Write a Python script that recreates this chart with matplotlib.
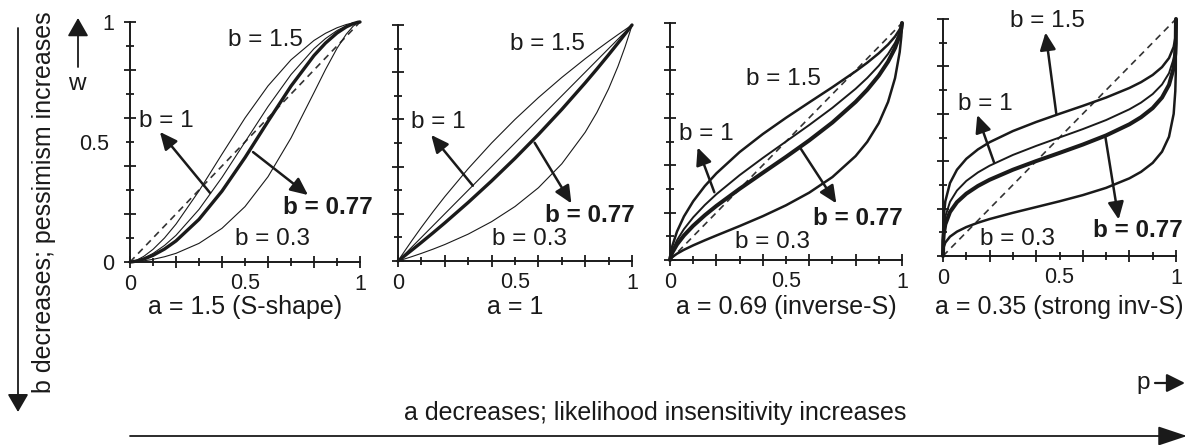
import matplotlib
matplotlib.use("Agg")
import matplotlib.pyplot as plt
from matplotlib.patches import FancyArrowPatch

plt.rcParams['font.family'] = ['Liberation Sans', 'DejaVu Sans']

p = [0, 0.001, 0.003, 0.01, 0.03, 0.06, 0.1, 0.15, 0.2, 0.3, 0.4, 0.5,
     0.6, 0.7, 0.8, 0.85, 0.9, 0.94, 0.97, 0.99, 0.997, 0.999, 1]

a_values = [1.5, 1, 0.69, 0.35]
a_labels = ["a = 1.5 (S-shape)", "a = 1", "a = 0.69 (inverse-S)", "a = 0.35 (strong inv-S)"]
b_values = [0.3, 0.77, 1, 1.5]

# a = 1.5
w_a150_b030 = [0, 0, 0, 0.0003, 0.0016, 0.0048, 0.011, 0.0218, 0.0361, 0.0776, 0.1404, 0.2308,
               0.3553, 0.5167, 0.7059, 0.8019, 0.8901, 0.9490, 0.9822, 0.9966, 0.9995, 0.9999, 1]
w_a150_b077 = [0, 0, 0.0001, 0.0008, 0.0042, 0.0123, 0.0277, 0.0540, 0.0878, 0.1777, 0.2954, 0.4350,
               0.5859, 0.7329, 0.8603, 0.9122, 0.9541, 0.9795, 0.9930, 0.9987, 0.9998, 1.0, 1]
w_a150_b100 = [0, 0, 0.0002, 0.0010, 0.0054, 0.0159, 0.0357, 0.0690, 0.1111, 0.2191, 0.3525, 0.5,
               0.6475, 0.7809, 0.8889, 0.9310, 0.9643, 0.9841, 0.9946, 0.9990, 0.9998, 1.0, 1]
w_a150_b150 = [0, 0, 0.0002, 0.0015, 0.0081, 0.0236, 0.0526, 0.1001, 0.1579, 0.2962, 0.4495, 0.6,
               0.7337, 0.8424, 0.9231, 0.9529, 0.9759, 0.9894, 0.9964, 0.9993, 0.9999, 1.0, 1]
# a = 1
w_a100_b030 = [0, 0.0003, 0.0009, 0.0030, 0.0092, 0.0188, 0.0323, 0.0503, 0.0698, 0.1139, 0.1667, 0.2308,
               0.3103, 0.4118, 0.5455, 0.6296, 0.7297, 0.8246, 0.9065, 0.9674, 0.9901, 0.9967, 1]
w_a100_b077 = [0, 0.0008, 0.0023, 0.0077, 0.0233, 0.0469, 0.0788, 0.1196, 0.1614, 0.2481, 0.3392, 0.4350,
               0.5360, 0.6424, 0.7549, 0.8135, 0.8739, 0.9234, 0.9614, 0.9871, 0.9961, 0.9987, 1]
w_a100_b100 = [0, 0.001, 0.003, 0.01, 0.03, 0.06, 0.1, 0.15, 0.2, 0.3, 0.4, 0.5,
               0.6, 0.7, 0.8, 0.85, 0.9, 0.94, 0.97, 0.99, 0.997, 0.999, 1]
w_a100_b150 = [0, 0.0015, 0.0045, 0.0149, 0.0443, 0.0874, 0.1429, 0.2093, 0.2727, 0.3913, 0.5, 0.6,
               0.6923, 0.7778, 0.8571, 0.8947, 0.9310, 0.9592, 0.9798, 0.9933, 0.9980, 0.9993, 1]
# a = 0.69
w_a069_b030 = [0, 0.0026, 0.0054, 0.0124, 0.0265, 0.0430, 0.0618, 0.0831, 0.1034, 0.1432, 0.1849, 0.2308,
               0.2841, 0.3499, 0.4385, 0.4983, 0.5774, 0.6670, 0.7675, 0.8772, 0.9428, 0.9724, 1]
w_a069_b077 = [0, 0.0065, 0.0138, 0.0313, 0.0654, 0.1034, 0.1446, 0.1887, 0.2283, 0.3003, 0.3679, 0.4350,
               0.5046, 0.5801, 0.6671, 0.7182, 0.7781, 0.8371, 0.8945, 0.9483, 0.9769, 0.9891, 1]
w_a069_b100 = [0, 0.0085, 0.0179, 0.0403, 0.0833, 0.1303, 0.1801, 0.2320, 0.2776, 0.3579, 0.4305, 0.5,
               0.5695, 0.6421, 0.7224, 0.7680, 0.8199, 0.8697, 0.9167, 0.9597, 0.9821, 0.9916, 1]
w_a069_b150 = [0, 0.0126, 0.0266, 0.0592, 0.1199, 0.1835, 0.2478, 0.3119, 0.3656, 0.4553, 0.5314, 0.6,
               0.6649, 0.7291, 0.7961, 0.8324, 0.8723, 0.9092, 0.9429, 0.9728, 0.9880, 0.9944, 1]
# a = 0.35
w_a035_b030 = [0, 0.0260, 0.0378, 0.0567, 0.0816, 0.1028, 0.1221, 0.1405, 0.1559, 0.1823, 0.2065, 0.2308,
               0.2569, 0.2875, 0.3277, 0.3551, 0.3929, 0.4401, 0.5032, 0.5998, 0.6959, 0.7709, 1]
w_a035_b077 = [0, 0.0642, 0.0917, 0.1336, 0.1857, 0.2272, 0.2630, 0.2956, 0.3216, 0.3640, 0.4005, 0.4350,
               0.4702, 0.5088, 0.5557, 0.5856, 0.6242, 0.6686, 0.7222, 0.7936, 0.8545, 0.8962, 1]
w_a035_b100 = [0, 0.0819, 0.1159, 0.1668, 0.2285, 0.2763, 0.3167, 0.3527, 0.3810, 0.4264, 0.4646, 0.5,
               0.5354, 0.5736, 0.6190, 0.6473, 0.6833, 0.7237, 0.7715, 0.8332, 0.8841, 0.9181, 1]
w_a035_b150 = [0, 0.1180, 0.1643, 0.2310, 0.3077, 0.3641, 0.4101, 0.4498, 0.4801, 0.5272, 0.5655, 0.6,
               0.6335, 0.6686, 0.7090, 0.7335, 0.7639, 0.7971, 0.8351, 0.8822, 0.9196, 0.9439, 1]

curves = [
    [w_a150_b030, w_a150_b077, w_a150_b100, w_a150_b150],
    [w_a100_b030, w_a100_b077, w_a100_b100, w_a100_b150],
    [w_a069_b030, w_a069_b077, w_a069_b100, w_a069_b150],
    [w_a035_b030, w_a035_b077, w_a035_b100, w_a035_b150],
]

W, H = 1190, 445
fig = plt.figure(figsize=(W / 100, H / 100), dpi=100)


def fx(px):
    return px / W


def fy(py):
    return 1 - py / H


# panel boxes in pixels: left, right, top, bottom
boxes = [(130, 360, 22, 262), (398, 632, 25, 261), (670, 902, 23, 260), (943, 1176, 19, 256)]

# label positions (data coords) per panel: b=1.5, b=1 (left x), b=0.77, b=0.3
lab_b150 = [(0.59, 0.925), (0.64, 0.92), (0.49, 0.765), (0.45, 0.99)]
lab_b100 = [(0.04, 0.588), (0.055, 0.588), (0.04, 0.532), (0.065, 0.64)]
lab_b077 = [(0.86, 0.225), (0.82, 0.192), (0.81, 0.173), (0.835, 0.108)]
lab_b030 = [(0.62, 0.096), (0.56, 0.093), (0.44, 0.075), (0.32, 0.071)]
# arrows: (tail, head)
arr_b100 = [((0.348, 0.288), (0.13, 0.542)), ((0.32, 0.319), (0.142, 0.534)),
            ((0.191, 0.286), (0.119, 0.475)), ((0.219, 0.395), (0.147, 0.595))]
arr_b077 = [((0.535, 0.458), (0.774, 0.279)), ((0.584, 0.501), (0.741, 0.244)),
            ((0.56, 0.475), (0.717, 0.239)), ((0.697, 0.502), (0.754, 0.154))]
arr_b150 = [None, None, None, ((0.486, 0.602), (0.44, 0.943))]

FS_TICK = 15.5
FS_LAB = 17.5
FS_BIG = 18
ink = '#1a1a1a'

for i in range(4):
    l, r, t, b = boxes[i]
    ax = fig.add_axes([fx(l), fy(b), fx(r) - fx(l), fy(t) - fy(b)])
    ax.set_xlim(0, 1)
    ax.set_ylim(0, 1)
    ax.patch.set_alpha(0)
    for s in ['top', 'right']:
        ax.spines[s].set_visible(False)
    for s in ['left', 'bottom']:
        ax.spines[s].set_linewidth(1.4)
        ax.spines[s].set_color(ink)

    if i != 1:
        ax.plot([0, 1], [0, 1], color='#333333', lw=1.2, dashes=(4, 3), clip_on=False, zorder=2)

    thin = 0.8 if i < 2 else 1.8
    mid = 0.8 if i < 2 else 1.4
    thick = 2.4 if i < 2 else 2.9
    widths = [thin, thick, mid, thin]
    for j in range(4):
        ax.plot(p, curves[i][j], color=ink, lw=widths[j], clip_on=False, zorder=3,
                solid_capstyle='round')

    ax.set_xticks([0, 0.2, 0.4, 0.6, 0.8, 1.0], labels=['0', '', '', '', '', '1'])
    ax.set_xticks([0.1, 0.3, 0.5, 0.7, 0.9], labels=['', '', '0.5', '', ''], minor=True)
    if i == 0:
        ax.set_yticks([0, 0.2, 0.4, 0.6, 0.8, 1.0], labels=['0', '', '', '', '', '1'])
        ax.set_yticks([0.1, 0.3, 0.5, 0.7, 0.9], labels=['', '', '0.5', '', ''], minor=True)
    else:
        ax.set_yticks([0, 0.2, 0.4, 0.6, 0.8, 1.0], labels=[''] * 6)
        ax.set_yticks([0.1, 0.3, 0.5, 0.7, 0.9], labels=[''] * 5, minor=True)
    ax.tick_params(which='major', direction='inout', length=9, width=1.3, color=ink,
                   labelsize=FS_TICK, labelcolor=ink)
    ax.tick_params(which='minor', direction='inout', length=6, width=1.3, color=ink,
                   labelsize=FS_TICK, labelcolor=ink)
    ax.tick_params(axis='x', which='major', pad=4)
    ax.tick_params(axis='x', which='minor', pad=5)
    ax.tick_params(axis='y', which='major', pad=7)
    ax.tick_params(axis='y', which='minor', pad=12)

    ax.text(*lab_b150[i], "b = 1.5", fontsize=FS_LAB, ha='center', va='center', color=ink)
    ax.text(*lab_b100[i], "b = 1", fontsize=FS_LAB, ha='left', va='center', color=ink)
    ax.text(*lab_b077[i], "b = 0.77", fontsize=FS_LAB, ha='center', va='center',
            fontweight='bold', color=ink)
    ax.text(*lab_b030[i], "b = 0.3", fontsize=FS_LAB, ha='center', va='center', color=ink)

    for arr in [arr_b100[i], arr_b077[i], arr_b150[i]]:
        if arr is None:
            continue
        ax.annotate('', xy=arr[1], xytext=arr[0],
                    arrowprops=dict(arrowstyle='-|>,head_length=0.7,head_width=0.32',
                                    mutation_scale=15, lw=1.8, color=ink,
                                    shrinkA=0, shrinkB=0), zorder=5)

    fig.text(fx((l + r) / 2), fy(307), a_labels[i], fontsize=FS_BIG, ha='center', va='center', color=ink)


def fig_arrow(x0, y0, x1, y1, lw, ms, hl, hw):
    fig.add_artist(FancyArrowPatch((fx(x0), fy(y0)), (fx(x1), fy(y1)),
                                   transform=fig.transFigure,
                                   arrowstyle='-|>,head_length=%g,head_width=%g' % (hl, hw),
                                   mutation_scale=ms, lw=lw, color=ink,
                                   shrinkA=0, shrinkB=0))


# left arrow and label
fig_arrow(18, 28, 18, 412, 1.3, 20, 0.55, 0.32)
fig.text(fx(44), fy(202), "b decreases; pessimism increases", rotation=90,
         fontsize=FS_BIG, ha='center', va='center', color=ink)
# w arrow
fig_arrow(78, 67, 78, 18, 1.3, 16, 0.7, 0.4)
fig.text(fx(77), fy(84), "w", fontsize=FS_LAB, ha='center', va='center', color=ink)
# p arrow
fig.text(fx(1143), fy(383), "p", fontsize=FS_LAB, ha='center', va='center', color=ink)
fig_arrow(1155, 383, 1185, 383, 1.6, 14, 0.8, 0.4)
# bottom arrow
fig.text(fx(655), fy(413), "a decreases; likelihood insensitivity increases",
         fontsize=FS_BIG, ha='center', va='center', color=ink)
fig_arrow(130, 436, 1187, 436, 1.3, 20, 0.9, 0.3)

plt.savefig('out.png', dpi=100)
